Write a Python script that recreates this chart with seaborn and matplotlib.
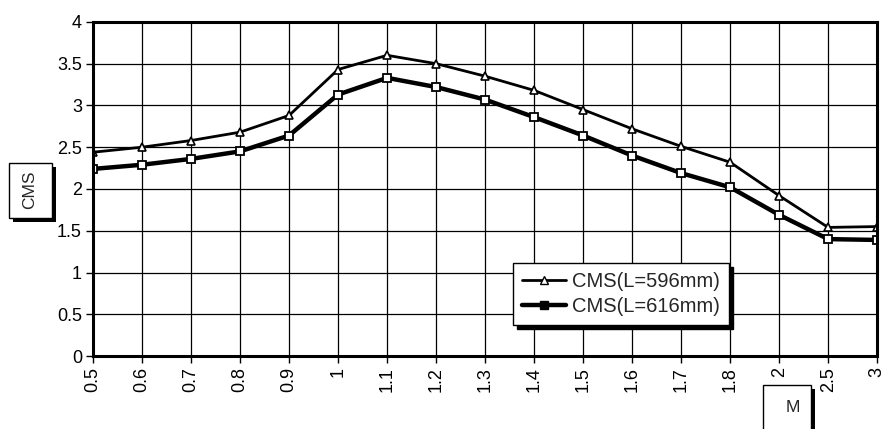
import matplotlib
matplotlib.use("Agg")
import matplotlib.pyplot as plt
import seaborn as sns
import pandas as pd
from matplotlib.lines import Line2D
from matplotlib.patches import Rectangle

categories = ["0.5", "0.6", "0.7", "0.8", "0.9", "1", "1.1", "1.2", "1.3",
              "1.4", "1.5", "1.6", "1.7", "1.8", "2", "2.5", "3"]
cms_596 = [2.44, 2.50, 2.58, 2.68, 2.88, 3.43, 3.60, 3.50, 3.35,
           3.18, 2.95, 2.72, 2.51, 2.32, 1.92, 1.54, 1.55]
cms_616 = [2.24, 2.29, 2.36, 2.45, 2.64, 3.13, 3.33, 3.22, 3.07,
           2.86, 2.64, 2.40, 2.19, 2.02, 1.69, 1.40, 1.39]
series_names = ["CMS(L=596mm)", "CMS(L=616mm)"]
y_ticks = [0, 0.5, 1, 1.5, 2, 2.5, 3, 3.5, 4]
y_ticklabels = ["0", "0.5", "1", "1.5", "2", "2.5", "3", "3.5", "4"]

df = pd.DataFrame({
    "M": categories * 2,
    "CMS": cms_596 + cms_616,
    "series": [series_names[0]] * len(categories) + [series_names[1]] * len(categories),
})

sns.set_style("white")
plt.rcParams["font.family"] = ["Liberation Sans", "DejaVu Sans"]

W, H = 886, 429
fig = plt.figure(figsize=(W / 100, H / 100), dpi=100)
ax = fig.add_axes([0.105, 0.170, 0.885, 0.779])

sns.lineplot(data=df, x="M", y="CMS", hue="series", style="series",
             markers={series_names[0]: "^", series_names[1]: "s"},
             dashes=False, sort=False,
             palette={series_names[0]: "black", series_names[1]: "black"},
             ax=ax, legend=False)

lines = ax.get_lines()
lines[0].set_linewidth(2.0)
lines[0].set_markersize(5.5)
lines[0].set_markerfacecolor("white")
lines[0].set_markeredgecolor("black")
lines[0].set_markeredgewidth(1.2)
lines[1].set_linewidth(3.2)
lines[1].set_markersize(6)
lines[1].set_markerfacecolor("white")
lines[1].set_markeredgecolor("black")
lines[1].set_markeredgewidth(1.3)

ax.set_xlim(0, len(categories) - 1)
ax.set_ylim(0, 4)
ax.set_xticks(range(len(categories)))
ax.set_xticklabels(categories, rotation=90, fontsize=13)
ax.set_yticks(y_ticks)
ax.set_yticklabels(y_ticklabels, fontsize=13)
ax.set_xlabel("")
ax.set_ylabel("")

ax.grid(True, color="black", linewidth=0.9)
ax.set_axisbelow(True)
for s in ax.spines.values():
    s.set_visible(True)
    s.set_color("black")
    s.set_linewidth(2.2)
ax.tick_params(axis="both", which="both", direction="out", length=5,
               width=1, color="black", labelcolor="black", bottom=True, left=True)
ax.tick_params(axis="y", pad=3)
ax.tick_params(axis="x", pad=3)

# legend
handles = [
    Line2D([], [], color="black", linewidth=2.0, marker="^", markersize=6,
           markerfacecolor="white", markeredgecolor="black"),
    Line2D([], [], color="black", linewidth=3.2, marker="s", markersize=6,
           markerfacecolor="black", markeredgecolor="black"),
]
leg = ax.legend(handles, series_names, loc="upper left",
                bbox_to_anchor=(0.535, 0.278), frameon=True, fancybox=False,
                shadow={"color": "black", "alpha": 1.0, "ox": 3, "oy": -3},
                fontsize=14.5, handlelength=2.2, handletextpad=0.3, borderpad=0.45,
                labelspacing=0.3, borderaxespad=0)
leg.get_frame().set_edgecolor("black")
leg.get_frame().set_linewidth(1.0)
leg.get_frame().set_alpha(1.0)


def label_box(x0, y0, x1, y1, text, tx, ty, rotation=0):
    # pixel coordinates from top-left
    fx, fy = x0 / W, 1 - y1 / H
    fw, fh = (x1 - x0) / W, (y1 - y0) / H
    sh = Rectangle((fx + 4 / W, fy - 4 / H), fw, fh, transform=fig.transFigure,
                   facecolor="black", edgecolor="none", zorder=5)
    bx = Rectangle((fx, fy), fw, fh, transform=fig.transFigure,
                   facecolor="white", edgecolor="black", linewidth=1.0, zorder=6)
    fig.add_artist(sh)
    fig.add_artist(bx)
    fig.text(tx / W, 1 - ty / H, text, rotation=rotation, ha="center", va="center",
             fontsize=12.5, zorder=7)


label_box(9, 163, 52, 218, "CMS", 30, 190, rotation=90)
label_box(763, 385, 811, 440, "M", 793, 408)

fig.savefig("out.png", dpi=100, facecolor="white")
